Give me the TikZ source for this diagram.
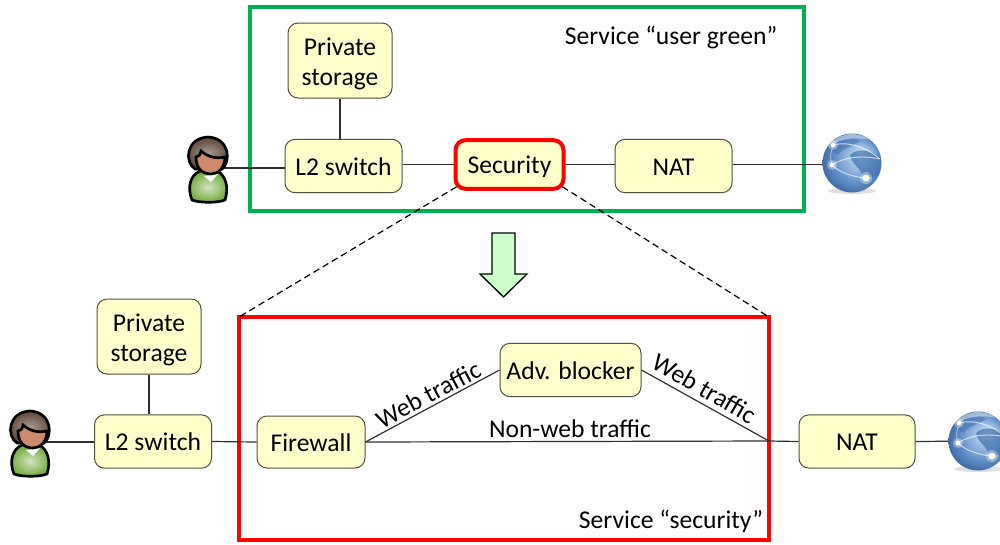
\documentclass[tikz,border=0pt]{standalone}
\usepackage{fontspec}
\setmainfont{Carlito}
\definecolor{boxfill}{HTML}{FFFFCC}
\definecolor{boxline}{HTML}{50503C}
\definecolor{linkc}{HTML}{303030}
\definecolor{greenr}{HTML}{00B050}
\definecolor{arrowf}{HTML}{CCFFCC}
\definecolor{hairc}{HTML}{5A4335}
\definecolor{hairl}{HTML}{A89A90}
\definecolor{skinc}{HTML}{CD8A6C}
\definecolor{shirtc}{HTML}{6FA83A}
\definecolor{shirtl}{HTML}{D2E6BE}
\definecolor{globea}{HTML}{DCE8F6}
\definecolor{globeb}{HTML}{9DBCE2}
\definecolor{globec}{HTML}{5F8CC6}
\definecolor{landc}{HTML}{3F70AE}
\pgfdeclareradialshading{globeball}{\pgfpoint{0.35cm}{0.25cm}}{
 color(0cm)=(globea); color(0.35cm)=(globeb); color(0.7cm)=(globec); color(1.1cm)=(landc!80!black)}
\tikzset{
 x=0.75pt,y=-0.75pt,
 every node/.style={font=\fontsize{19.2}{22.5}\selectfont,text=black,inner sep=0pt},
 fn/.style={draw=boxline,line width=0.75pt,fill=boxfill,rounded corners=7.5pt,align=center,minimum width=#1*0.75pt,text height=13.5pt,text depth=0pt},
 fn/.default=117,
 fntwo/.style={draw=boxline,line width=0.75pt,fill=boxfill,rounded corners=7.5pt,align=center,minimum width=#1*0.75pt},
 link/.style={draw=linkc,line width=0.9pt},
 dash link/.style={draw=black,line width=0.9pt,dash pattern=on 5pt off 3pt},
 anchorpt/.style={minimum size=0pt,inner sep=0pt},
 person/.pic={
  \draw[black,line width=2pt,inner color=shirtl,outer color=shirtc] (-16,32) .. controls (-21,20) and (-18,7) .. (-8,3) -- (9,3) .. controls (18,7) and (21,20) .. (17,32) .. controls (10,35) and (-9,35) .. (-16,32) -- cycle;
  \fill[white] (-4,8) -- (3,14) -- (10,6) -- cycle;
  \draw[black,line width=2pt,inner color=hairl,outer color=hairc] (-13,1) .. controls (-24,-6) and (-22,-30) .. (0,-31) .. controls (22,-30) and (23,-6) .. (14,1) -- cycle;
  \draw[black,line width=2pt,fill=skinc] (-12,-11) .. controls (-9,-11) and (-8,-13) .. (-7,-17) .. controls (0,-11) and (8,-9) .. (17,-11) .. controls (17,0) and (10,6) .. (3,6) .. controls (-5,6) and (-12,1) .. (-12,-11) -- cycle;
 },
 globe/.pic={
  \fill[black!30,opacity=.4] (0,28) ellipse (24 and 3);
  \shade[shading=globeball] (0,0) circle (29.5);
  \begin{scope}
  \clip (0,0) circle (29);
  \fill[landc,opacity=.7] (-2,-8) .. controls (6,-16) and (20,-12) .. (29,-6) -- (29,10) .. controls (22,16) and (14,14) .. (10,12) .. controls (8,4) and (0,2) .. (-2,-8) -- cycle;
  \fill[landc,opacity=.5] (-22,-16) .. controls (-14,-26) and (-2,-28) .. (8,-22) .. controls (0,-16) and (-12,-14) .. (-14,-8) .. controls (-18,-10) and (-20,-12) .. (-22,-16) -- cycle;
  \fill[landc,opacity=.55] (-29,6) .. controls (-18,22) and (-4,28) .. (8,29) -- (-29,29) -- cycle;
  \fill[white,opacity=.45] (-20,-29) .. controls (-6,-31) and (12,-29) .. (22,-22) .. controls (10,-26) and (-8,-26) .. (-20,-18) -- cycle;
  \end{scope}
  \draw[white,opacity=.7,line width=.7pt] (-19,-18) .. controls (-4,-22) and (14,-16) .. (28,-4);
  \draw[white,opacity=.7,line width=.7pt] (-20,2) .. controls (-8,-6) and (10,-8) .. (28,-4);
  \draw[white,opacity=.7,line width=.7pt] (-20,2) .. controls (-12,10) and (2,14) .. (14,15);
  \draw[white,opacity=.5,line width=.6pt] (-19,-18) .. controls (-22,-8) and (-22,-4) .. (-20,2);
  \fill[white,opacity=.35] (-19,-18) circle (5);
  \fill[white,opacity=.35] (-20,2) circle (5);
  \fill[white,opacity=.35] (14,15) circle (6);
  \fill[white] (-19,-18) circle (2.5);
  \fill[white] (-20,2) circle (2.5);
  \fill[white] (14,15) circle (3.5);
 },
}
\begin{document}
\begin{tikzpicture}
\useasboundingbox (0,0) rectangle (1000,544);
\clip (0,0) rectangle (1000,544);
% containers
\node[anchorpt] (grp1) at (527,109) [draw=greenr,line width=3pt,minimum width=415.5pt,minimum height=153pt] {};
\node[anchorpt] (grp2) at (504,428.5) [draw=red,line width=3pt,minimum width=397.5pt,minimum height=167.25pt] {};
% top row
\node[fntwo=104,minimum height=56.25pt] (ps1) at (340,60.5) {\rule{0pt}{18pt}Private\\storage};
\node[fn,minimum height=40pt] (l21) at (343.5,166) {L2 switch};
\node[fn=108,draw=red,line width=3pt,minimum height=36.5pt] (sec) at (509.5,164.5) {Security};
\node[fn,minimum height=40pt] (nat1) at (673.5,166) {NAT};
\node[anchorpt] (u1) at (208,168) {};
\node[anchorpt] (g1) at (852,163) {};
% bottom row
\node[fntwo=104,minimum height=56.25pt] (ps2) at (149,336.5) {\rule{0pt}{18pt}Private\\storage};
\node[fn,minimum height=40pt] (l22) at (153,441.5) {L2 switch};
\node[fn=108,minimum height=39pt] (fw) at (311,442) {Firewall};
\node[fn=141,minimum height=40pt] (adv) at (570.5,370) {Adv. blocker};
\node[fn=116,minimum height=40pt] (nat2) at (857,441.5) {NAT};
\node[anchorpt] (u2) at (30,442) {};
\node[anchorpt] (g2) at (978,441) {};
\coordinate (join) at (769,441);
\coordinate (tl) at (239,317);
\coordinate (tr) at (769,317);
% connectors
\draw[link] (u1.center) -- (l21.west |- u1);
\draw[link] (ps1.south) -- (ps1.south |- l21.north);
\draw[link] (l21.east |- sec) -- (sec.west);
\draw[link] (sec.east) -- (nat1.west |- sec);
\draw[link] (nat1.east |- sec) -- (g1.center |- sec);
\draw[link] (u2.center) -- (l22.west |- u2);
\draw[link] (ps2.south) -- (ps2.south |- l22.north);
\draw[link] (l22.east) -- (fw.west);
\draw[link] (fw.east) -- (join);
\draw[link] (fw.east) -- (adv.west);
\draw[link] (adv.east) -- (join);
\draw[link] (join) -- (nat2.west);
\draw[link] (nat2.east) -- (g2.center);
\draw[dash link] (sec.south west) ++(3,-4) -- (tl);
\draw[dash link] (sec.south east) ++(-3,-4) -- (tr);
\draw[black,line width=1pt,fill=arrowf] (492,233) -- (515,233) -- (515,274) -- (527,274) -- (503.5,297) -- (480,274) -- (492,274) -- cycle;
\pic at (u1) {person};
\pic at (u2) {person};
\pic at (g1) {globe};
\pic at (g2) {globe};
% labels
\node[text height=14pt,text depth=4pt] (t1) at (671,38) {Service “user green”};
\node[text height=14pt,text depth=4pt] (t2) at (671,522) {Service “security”};
\node[rotate=28,text height=14pt,text depth=0pt] (t3) at (428,394) {Web traffic};
\node[rotate=-30,text height=14pt,text depth=0pt] (t4) at (705,388) {Web traffic};
\node[text height=14pt,text depth=0pt] (t5) at (570,428) {Non-web traffic};
\end{tikzpicture}
\end{document}
